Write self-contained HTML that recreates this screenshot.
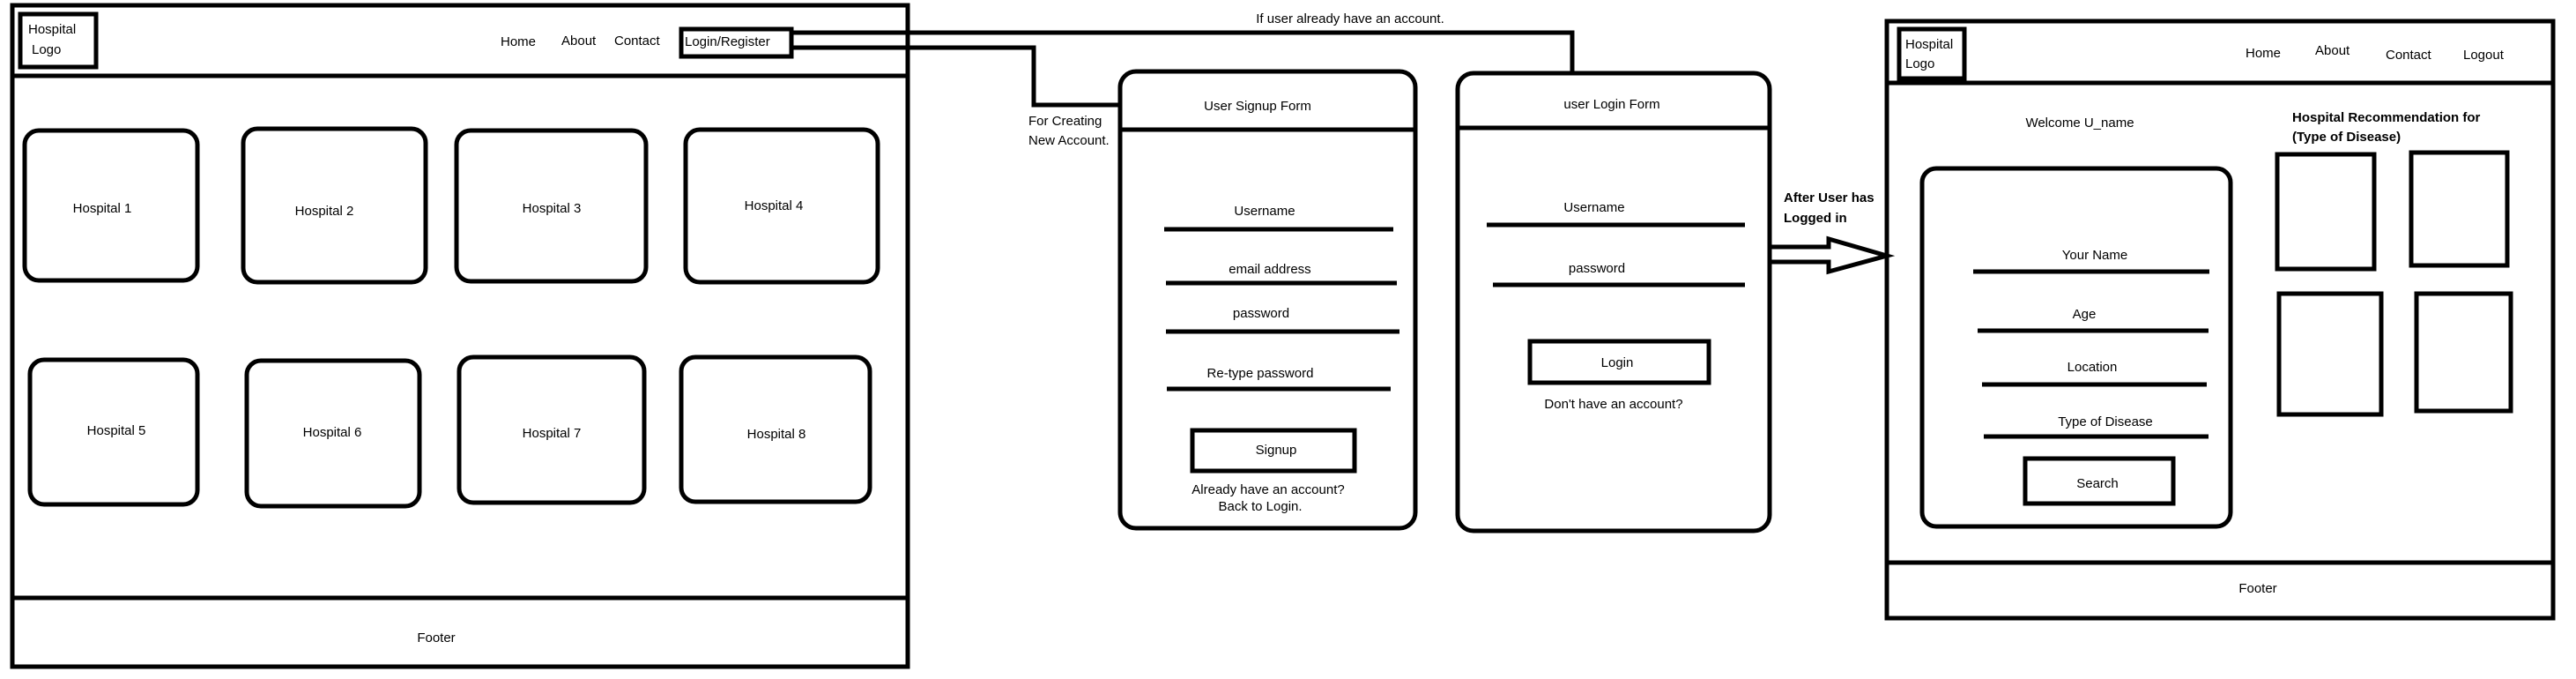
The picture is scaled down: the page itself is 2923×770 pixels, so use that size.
<!DOCTYPE html>
<html><head><meta charset="utf-8"><style>
html,body{margin:0;padding:0;background:#fff;}
svg{display:block;}
text{font-family:"Liberation Sans",sans-serif;font-size:15px;fill:#000;}
.b{font-weight:bold;}
</style></head><body>
<svg width="2923" height="770" viewBox="0 0 2923 770" xmlns="http://www.w3.org/2000/svg">
<g fill="none" stroke="#000" stroke-width="5">
<!-- left frame -->
<rect x="14" y="6" width="1016" height="750"/>
<line x1="14" y1="86" x2="1030" y2="86"/>
<line x1="14" y1="678" x2="1030" y2="678"/>
<rect x="23" y="16" width="86" height="60"/>
<rect x="773" y="33" width="125" height="31"/>
<rect x="28" y="148" width="196" height="170" rx="16"/>
<rect x="276" y="146" width="207" height="174" rx="16"/>
<rect x="518" y="148" width="215" height="171" rx="16"/>
<rect x="778" y="147" width="218" height="173" rx="16"/>
<rect x="34" y="408" width="190" height="164" rx="16"/>
<rect x="280" y="409" width="196" height="165" rx="16"/>
<rect x="521" y="405" width="210" height="165" rx="16"/>
<rect x="773" y="405" width="214" height="164" rx="16"/>
<!-- connectors -->
<polyline points="898,37 1784,37 1784,83"/>
<polyline points="898,54 1173,54 1173,119 1271,119"/>
<!-- signup form -->
<rect x="1271" y="81" width="335" height="518" rx="18"/>
<line x1="1271" y1="147" x2="1606" y2="147"/>
<line x1="1321" y1="260" x2="1581" y2="260"/>
<line x1="1323" y1="321" x2="1585" y2="321"/>
<line x1="1323" y1="376" x2="1588" y2="376"/>
<line x1="1324" y1="441" x2="1578" y2="441"/>
<rect x="1353" y="488" width="184" height="46"/>
<!-- login form -->
<rect x="1654" y="83" width="354" height="519" rx="18"/>
<line x1="1654" y1="145" x2="2008" y2="145"/>
<line x1="1687" y1="255" x2="1980" y2="255"/>
<line x1="1694" y1="323" x2="1980" y2="323"/>
<rect x="1736" y="387" width="203" height="47"/>
<!-- arrow -->
<polygon points="2008,280 2075,280 2075,271 2141,290 2075,308 2075,297 2008,297" stroke-linejoin="miter"/>
<!-- right frame -->
<rect x="2141" y="24" width="756" height="677"/>
<line x1="2141" y1="94" x2="2897" y2="94"/>
<line x1="2141" y1="638" x2="2897" y2="638"/>
<rect x="2155" y="33" width="74" height="56"/>
<rect x="2181" y="191" width="350" height="406" rx="16"/>
<line x1="2239" y1="308" x2="2507" y2="308"/>
<line x1="2244" y1="375" x2="2506" y2="375"/>
<line x1="2249" y1="436" x2="2504" y2="436"/>
<line x1="2251" y1="495" x2="2506" y2="495"/>
<rect x="2298" y="520" width="168" height="51"/>
<rect x="2584" y="175" width="110" height="130"/>
<rect x="2736" y="173" width="109" height="128"/>
<rect x="2586" y="333" width="116" height="137"/>
<rect x="2742" y="333" width="107" height="133"/>
</g>
<!-- left texts -->
<text x="32" y="38">Hospital</text>
<text x="36" y="61">Logo</text>
<text x="568" y="52">Home</text>
<text x="637" y="51">About</text>
<text x="697" y="51">Contact</text>
<text x="777" y="52">Login/Register</text>
<g text-anchor="middle">
<text x="116" y="241">Hospital 1</text>
<text x="368" y="244">Hospital 2</text>
<text x="626" y="241">Hospital 3</text>
<text x="878" y="238">Hospital 4</text>
<text x="132" y="493">Hospital 5</text>
<text x="377" y="495">Hospital 6</text>
<text x="626" y="496">Hospital 7</text>
<text x="881" y="497">Hospital 8</text>
<text x="495" y="728">Footer</text>
<text x="1532" y="26">If user already have an account.</text>
<text x="1427" y="125">User Signup Form</text>
<text x="1435" y="244">Username</text>
<text x="1441" y="310">email address</text>
<text x="1431" y="360">password</text>
<text x="1430" y="428">Re-type password</text>
<text x="1448" y="515">Signup</text>
<text x="1439" y="560">Already have an account?</text>
<text x="1430" y="579">Back to Login.</text>
<text x="1829" y="123">user Login Form</text>
<text x="1809" y="240">Username</text>
<text x="1812" y="309">password</text>
<text x="1835" y="416">Login</text>
<text x="1831" y="463">Don't have an account?</text>
<text x="2360" y="144">Welcome U_name</text>
<text x="2377" y="294">Your Name</text>
<text x="2365" y="361">Age</text>
<text x="2374" y="421">Location</text>
<text x="2389" y="483">Type of Disease</text>
<text x="2380" y="553">Search</text>
<text x="2562" y="672">Footer</text>
</g>
<text x="1167" y="142">For Creating</text>
<text x="1167" y="164">New Account.</text>
<text class="b" x="2024" y="229">After User has</text>
<text class="b" x="2024" y="252">Logged in</text>
<text x="2162" y="55">Hospital</text>
<text x="2162" y="77">Logo</text>
<text x="2548" y="65">Home</text>
<text x="2627" y="62">About</text>
<text x="2707" y="67">Contact</text>
<text x="2795" y="67">Logout</text>
<text class="b" x="2601" y="138">Hospital Recommendation for</text>
<text class="b" x="2601" y="160">(Type of Disease)</text>
</svg>
</body></html>
